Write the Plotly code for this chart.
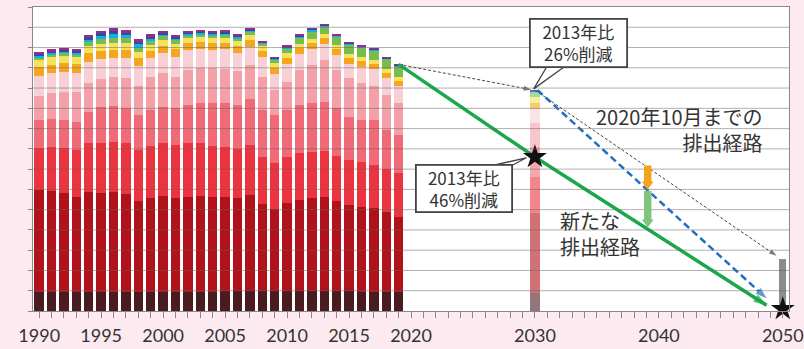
import numpy as np
import plotly.graph_objects as go

# ---------------- data (Mt CO2-eq) ----------------
years = list(range(1990, 2020))
brown    = [92,92,92,92,93,93,93,93,92,93,94,94,95,95,96,97,98,98,99,98,99,100,100,100,99,97,96,95,94,93]
darkred  = [505,500,488,472,493,487,493,483,452,463,473,462,469,472,468,467,458,474,429,404,432,448,459,464,445,426,419,412,396,372]
red      = [206,215,223,230,241,247,249,254,250,258,260,263,263,260,250,243,242,247,233,230,230,230,227,225,221,222,222,213,209,214]
pinkred  = [139,139,139,140,156,178,176,170,173,178,179,181,189,198,214,218,218,225,231,235,231,238,239,241,235,214,205,222,194,189]
pink     = [119,131,140,148,143,138,145,148,143,164,167,156,173,172,169,167,170,170,161,123,139,173,190,208,188,189,184,168,173,160]
lightpink= [98,96,99,94,104,99,92,100,99,91,98,99,99,94,91,99,88,90,99,79,88,79,76,79,75,72,77,82,82,80]
orange   = [43,43,43,42,41,41,40,39,38,37,37,36,35,34,34,33,33,32,32,31,31,30,30,30,30,29,29,28,28,28]
yellow   = [36,36,36,35,35,35,35,34,32,28,28,27,25,25,25,25,24,24,23,22,22,21,21,21,21,20,20,20,20,20]
green    = [15,15,14,15,20,25,25,24,21,19,19,17,13,15,13,14,16,17,14,18,24,30,38,36,38,45,47,47,48,52]
cyan     = [8,8,8,9,13,15,18,16,15,13,11,11,7,9,8,8,8,8,4,5,6,6,7,6,5,6,5,5,4,5]
blue     = [8,7,6,7,11,12,14,12,12,10,8,8,5,6,5,6,6,5,2,4,4,4,5,4,3,4,3,3,3,3]
purple   = [10,9,8,9,12,13,15,13,13,11,9,8,5,6,5,6,6,5,2,3,3,3,3,2,2,2,2,1,1,1]

year_2030 = 2030
target_2030 = [87, 395, 181, 148, 115, 70, 32, 26, 22, 6, 5, 2]   # same layer order
year_2050 = 2050
value_2050 = 255

# paths
old_path_x = [2019, 2029.7]
old_path_y = [1217, 1092]
old_path2_x = [2030.0, 2049.5]
old_path2_y = [1090, 272]
blue_path_x = [2030.2, 2048.7]
blue_path_y = [1090, 62]
new_path_x = [2019, 2030, 2048.7]
new_path_y = [1217, 760, 28]
star_x = [2030, 2050]
star_y = [760, 10]

tick_years = [1990, 1995, 2000, 2005, 2010, 2015, 2020, 2030, 2040, 2050]

layers = [brown, darkred, red, pinkred, pink, lightpink, orange, yellow, green, cyan, blue, purple]
colors = ['#4a1b1f', '#b0121b', '#ec3340', '#f06a78', '#f3a0a9', '#f8cfd5',
          '#f5a51f', '#f5e25a', '#78bd4c', '#19aee0', '#2b4f9e', '#9c2a8a']

fig = go.Figure()
for vals, v30, col in zip(layers, target_2030, colors):
    fig.add_trace(go.Bar(
        x=years + [year_2030], y=vals + [v30],
        width=[0.76] * len(years) + [0.8],
        marker=dict(color=col, opacity=[1] * len(years) + [0.6], line=dict(width=0)),
        hoverinfo='skip', showlegend=False))

fig.add_trace(go.Bar(x=[year_2050], y=[value_2050], width=[0.55],
                     marker=dict(color='#8c8c8c', line=dict(width=0)),
                     showlegend=False, hoverinfo='skip'))

def arrow_line(xs, ys, color, width, dash, size):
    n = len(xs)
    fig.add_trace(go.Scatter(
        x=xs, y=ys, mode='lines+markers', cliponaxis=False,
        line=dict(color=color, width=width, dash=dash),
        marker=dict(symbol=['circle'] * (n - 1) + ['arrow'], size=[0] * (n - 1) + [size],
                    angleref='previous', color=color, line=dict(width=0)),
        showlegend=False, hoverinfo='skip'))

arrow_line(old_path_x, old_path_y, '#444444', 1, '3px,2px', 8)
arrow_line(old_path2_x, old_path2_y, '#444444', 1, '3px,2px', 8)
arrow_line(blue_path_x, blue_path_y, '#1f6fc4', 2.5, '7px,4px', 12)
arrow_line(new_path_x, new_path_y, '#1aa84a', 3.5, 'solid', 14)

fig.add_trace(go.Scatter(x=star_x, y=star_y, mode='markers', cliponaxis=False,
                         marker=dict(symbol='star', size=18, color='#111111'),
                         showlegend=False, hoverinfo='skip'))

# ---------------- shapes ----------------
shapes = []
for v in range(100, 1500, 100):
    shapes.append(dict(type='line', xref='paper', yref='y', x0=0, x1=1, y0=v, y1=v,
                       line=dict(color='rgba(100,100,100,0.5)', width=1), layer='above'))

# fat arrows at 2039
ax_year = 2039.1
y_old = float(np.interp(ax_year, old_path2_x, old_path2_y)) + 10
y_blue = float(np.interp(ax_year, blue_path_x, blue_path_y))
y_new = float(np.interp(ax_year, new_path_x, new_path_y))

def fat_arrow(x, ytop, ytip, color):
    hw, hh, hl = 0.3, 0.48, 40
    p = (f"M {x-hw},{ytop} L {x+hw},{ytop} L {x+hw},{ytip+hl} L {x+hh},{ytip+hl} "
         f"L {x},{ytip} L {x-hh},{ytip+hl} L {x-hw},{ytip+hl} Z")
    return dict(type='path', xref='x', yref='y', path=p, fillcolor=color,
                line=dict(width=0), layer='above')

shapes.append(fat_arrow(ax_year, y_old, y_blue + 3, '#f5a31a'))
shapes.append(fat_arrow(ax_year, y_blue - 3, y_new + 8, '#80c47e'))

# callout pointers
shapes.append(dict(type='path', xref='x', yref='y',
                   path='M 2031.05,1215 L 2029.9,1096 L 2032.6,1215 Z',
                   fillcolor='white', line=dict(color='#444', width=1.3), layer='above'))
shapes.append(dict(type='path', xref='x', yref='y',
                   path='M 2025.3,700 L 2029.3,756 L 2027.6,700 Z',
                   fillcolor='white', line=dict(color='#444', width=1.3), layer='above'))

jp = 'Noto Sans CJK JP'
annotations = [
    dict(x=2033.5, y=1322, xref='x', yref='y', text='2013年比<br>26%削減', showarrow=False,
         font=dict(family=jp, size=17, color='#333'), bgcolor='white', bordercolor='#444',
         borderwidth=1.8, borderpad=1, width=93, height=44, align='center'),
    dict(x=2024.26, y=602, xref='x', yref='y', text='2013年比<br>46%削減', showarrow=False,
         font=dict(family=jp, size=17, color='#333'), bgcolor='white', bordercolor='#444',
         borderwidth=1.8, borderpad=1, width=92, height=43, align='center'),
    dict(x=2048.55, y=895, xref='x', yref='y', text='2020年10月までの<br>排出経路',
         showarrow=False, xanchor='right', align='right',
         font=dict(family=jp, size=20, color='#333')),
    dict(x=2031.85, y=382, xref='x', yref='y', text='新たな<br>排出経路', showarrow=False,
         xanchor='left', align='left', font=dict(family=jp, size=20, color='#333')),
]

fig.update_layout(
    width=804, height=349, barmode='stack', bargap=0,
    margin=dict(l=33, r=15, t=7, b=38, autoexpand=False),
    paper_bgcolor='#fceaf0', plot_bgcolor='white',
    shapes=shapes, annotations=annotations,
    xaxis=dict(range=[1989.5, 2050.5], tickvals=tick_years, ticks='outside', ticklen=6,
               tickcolor='#888', showline=True, linecolor='#888', linewidth=1, mirror=True,
               showgrid=False, zeroline=False, ticklabelstandoff=2, automargin=False,
               tickfont=dict(family='Lato', size=18, color='#333'),
               minor=dict(dtick=1, tick0=1990, ticks='outside', ticklen=6, tickcolor='#888',
                          showgrid=False)),
    yaxis=dict(range=[0, 1500], dtick=100, ticks='outside', ticklen=4, tickcolor='#888',
               showticklabels=False, showline=True, linecolor='#888', linewidth=1,
               mirror=True, showgrid=False, zeroline=False, automargin=False),
)

fig.write_html('out.html')
